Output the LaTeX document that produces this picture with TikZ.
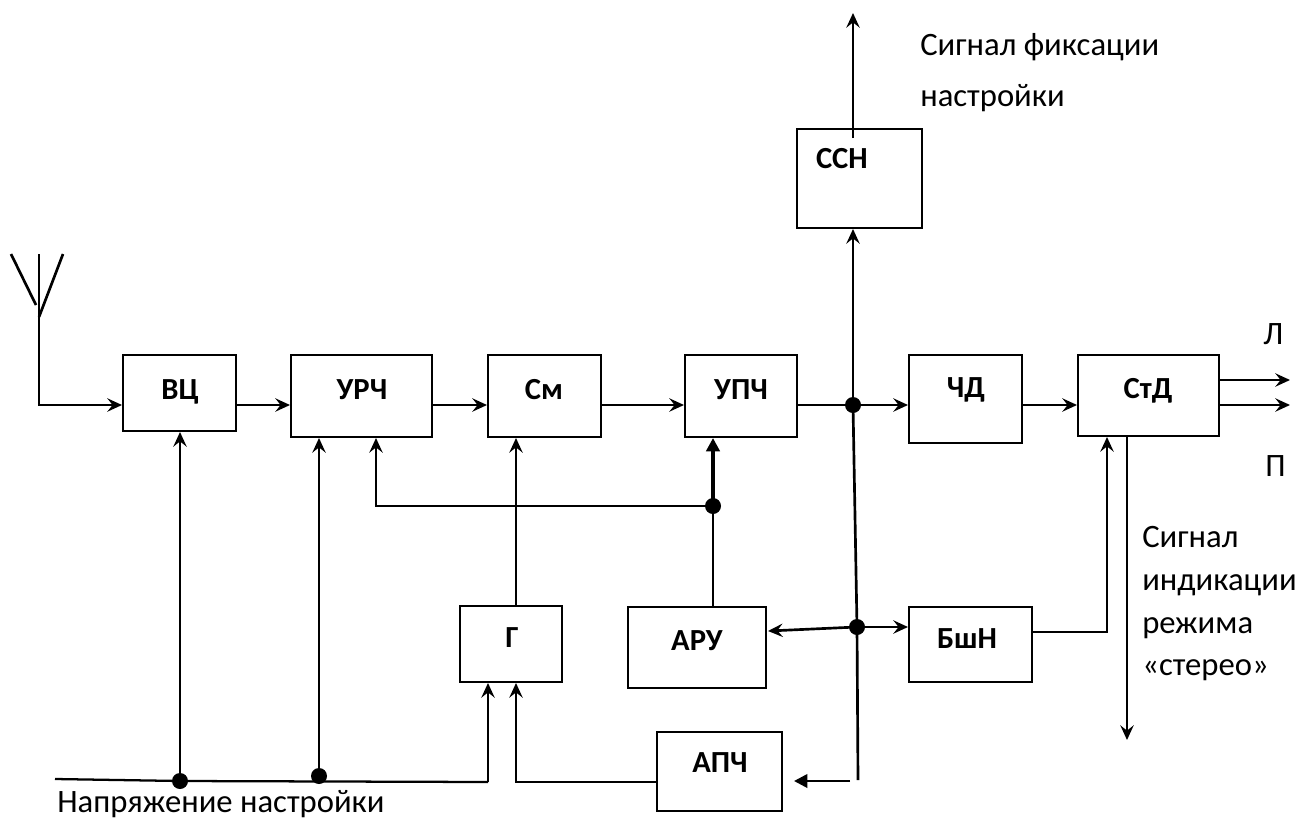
\documentclass[tikz,border=0pt]{standalone}
\usepackage{fontspec}
\setmainfont{Carlito}
\usetikzlibrary{arrows.meta,fit}
\begin{document}
\begin{tikzpicture}[x=0.75pt,y=-0.75pt,
  blk/.style={draw, line width=1.5pt, inner sep=0pt, fill=none},
  bl/.style={font=\bfseries\fontsize{23}{26}\selectfont, inner sep=0pt},
  txt/.style={font=\fontsize{24.5}{29}\selectfont, inner sep=0pt},
  ln/.style={line width=2pt},
  arr/.style={ln, -{Stealth[length=11pt,width=10pt,inset=4pt]}},
  tri/.style={ln, -{Triangle[length=10pt,width=10pt]}},
  dot/.style={circle, fill=black, inner sep=0pt, minimum size=12pt}]
\useasboundingbox (0,0) rectangle (1299,825);
% boxes
\node[blk, fit={(123,355)(236,431)}] (vc) {};
\node[blk, fit={(291,355)(432,437)}] (urch) {};
\node[blk, fit={(488,355)(601,437)}] (sm) {};
\node[blk, fit={(685,355)(797,437)}] (upch) {};
\node[blk, fit={(909,355)(1022,443)}] (chd) {};
\node[blk, fit={(1078,355)(1219,436)}] (std) {};
\node[blk, fit={(797,129)(922,228)}] (ssn) {};
\node[blk, fit={(460,606)(562,682)}] (g) {};
\node[blk, fit={(628,607)(766,688)}] (aru) {};
\node[blk, fit={(909,607)(1032,682)}] (bshn) {};
\node[blk, fit={(657,732)(782,811)}] (apch) {};
% box labels
\node[bl] (vct) at (180,392) {ВЦ};
\node[bl] (urcht) at (362,390) {УРЧ};
\node[bl] (smt) at (544,390) {См};
\node[bl] (upcht) at (741,390) {УПЧ};
\node[bl] (chdt) at (966,390) {ЧД};
\node[bl] (stdt) at (1148,391) {СтД};
\node[bl] (ssnt) at (842,159) {ССН};
\node[bl] (gt) at (512,638) {Г};
\node[bl] (arut) at (697,641) {АРУ};
\node[bl] (bshnt) at (967,639) {БшН};
\node[bl] (apcht) at (720,763) {АПЧ};
% coordinates
\coordinate (mainy) at (0,405);
\coordinate (antT) at (39,254);
\coordinate (antC) at (39,405);
\coordinate (antL1) at (11,254);
\coordinate (antL2) at (36,305);
\coordinate (antR1) at (63,254);
\coordinate (antR2) at (39,317);
\coordinate (J) at (853,405);
\coordinate (K) at (857,627);
\coordinate (Kend) at (858,780);
\coordinate (apchA) at (850,781);
\coordinate (apchTip) at (794,781);
\coordinate (aruTip) at (768,631);
\coordinate (Lend) at (1290,380);
\coordinate (Pend) at (1290,405);
\coordinate (ssnin) at (853,138);
\coordinate (ssnout) at (853,13);
\coordinate (bs1) at (1107,632);
\coordinate (stdOut) at (1127,740);
\coordinate (D) at (713,506);
\coordinate (D2) at (376,506);
\coordinate (gx) at (516,0);
\coordinate (T0) at (55,779);
\coordinate (T1) at (180,781);
\coordinate (T2) at (319,781);
\coordinate (T3) at (488,782);
\coordinate (A0) at (516,782);
% antenna
\draw[ln] (antL1) -- (antL2);
\draw[ln] (antR1) -- (antR2);
\draw[arr] (antT) -- (antC) -- (vc.west |- antC);
% main chain
\draw[arr] (vc.east |- mainy) -- (urch.west |- mainy);
\draw[arr] (urch.east |- mainy) -- (sm.west |- mainy);
\draw[arr] (sm.east |- mainy) -- (upch.west |- mainy);
\draw[ln] (upch.east |- J) -- (J);
\draw[arr] (J) -- (chd.west |- J);
\draw[arr] (chd.east |- mainy) -- (std.west |- mainy);
\draw[arr] (std.east |- Lend) -- (Lend);
\draw[arr] (std.east |- Pend) -- (Pend);
% SSN
\draw[arr] (J) -- (J |- ssn.south);
\draw[arr] (ssnin) -- (ssnout);
% vertical from J
\draw[ln] (J) -- (K) -- (Kend);
\draw[tri] (apchA) -- (apchTip);
\draw[arr] (K) -- (aruTip);
\draw[arr] (K) -- (bshn.west |- K);
\draw[arr] (bshn.east |- bs1) -- (bs1) -- (bs1 |- std.south);
\draw[arr] (stdOut |- std.south) -- (stdOut);
% ARU
\draw[line width=1.5pt] (aru.north -| D) -- (D);
\draw[tri, line width=2.5pt] (D) -- (D |- upch.south);
\draw[arr, line width=1.6pt] (D) -- (D2) -- (D2 |- urch.south);
% G
\draw[arr] (g.north -| gx) -- (sm.south -| gx);
% tuning line
\draw[line width=1.7pt] (T0) -- (T1) -- (T3);
\draw[arr] (T3) -- (T3 |- g.south);
\draw[arr] (T1) -- (T1 |- vc.south);
\draw[arr, line width=1.6pt] (T2) -- (T2 |- urch.south);
\draw[arr, line width=1.6pt] (apch.west |- A0) -- (A0) -- (A0 |- g.south);
% dots
\node[dot] (dJ) at (J) {};
\node[dot] (dK) at (K) {};
\node[dot] (dD) at (D) {};
\node[dot] (dT1) at (T1) {};
\node[dot] (dT2) at (319,776) {};
% texts
\node[txt, anchor=base west] (sf1) at (920,55) {Сигнал фиксации};
\node[txt, anchor=base west] (sf2) at (920,106) {настройки};
\node[txt, anchor=base west] (lL) at (1263,344) {Л};
\node[txt, anchor=base west] (lP) at (1265,476) {П};
\node[txt, anchor=base west] (si1) at (1142,547) {Сигнал};
\node[txt, anchor=base west] (si2) at (1142,590) {индикации};
\node[txt, anchor=base west] (si3) at (1142,633) {режима};
\node[txt, anchor=base west] (si4) at (1142,675) {«стерео»};
\node[txt, anchor=base west] (nap) at (57,812) {Напряжение настройки};
\end{tikzpicture}
\end{document}
